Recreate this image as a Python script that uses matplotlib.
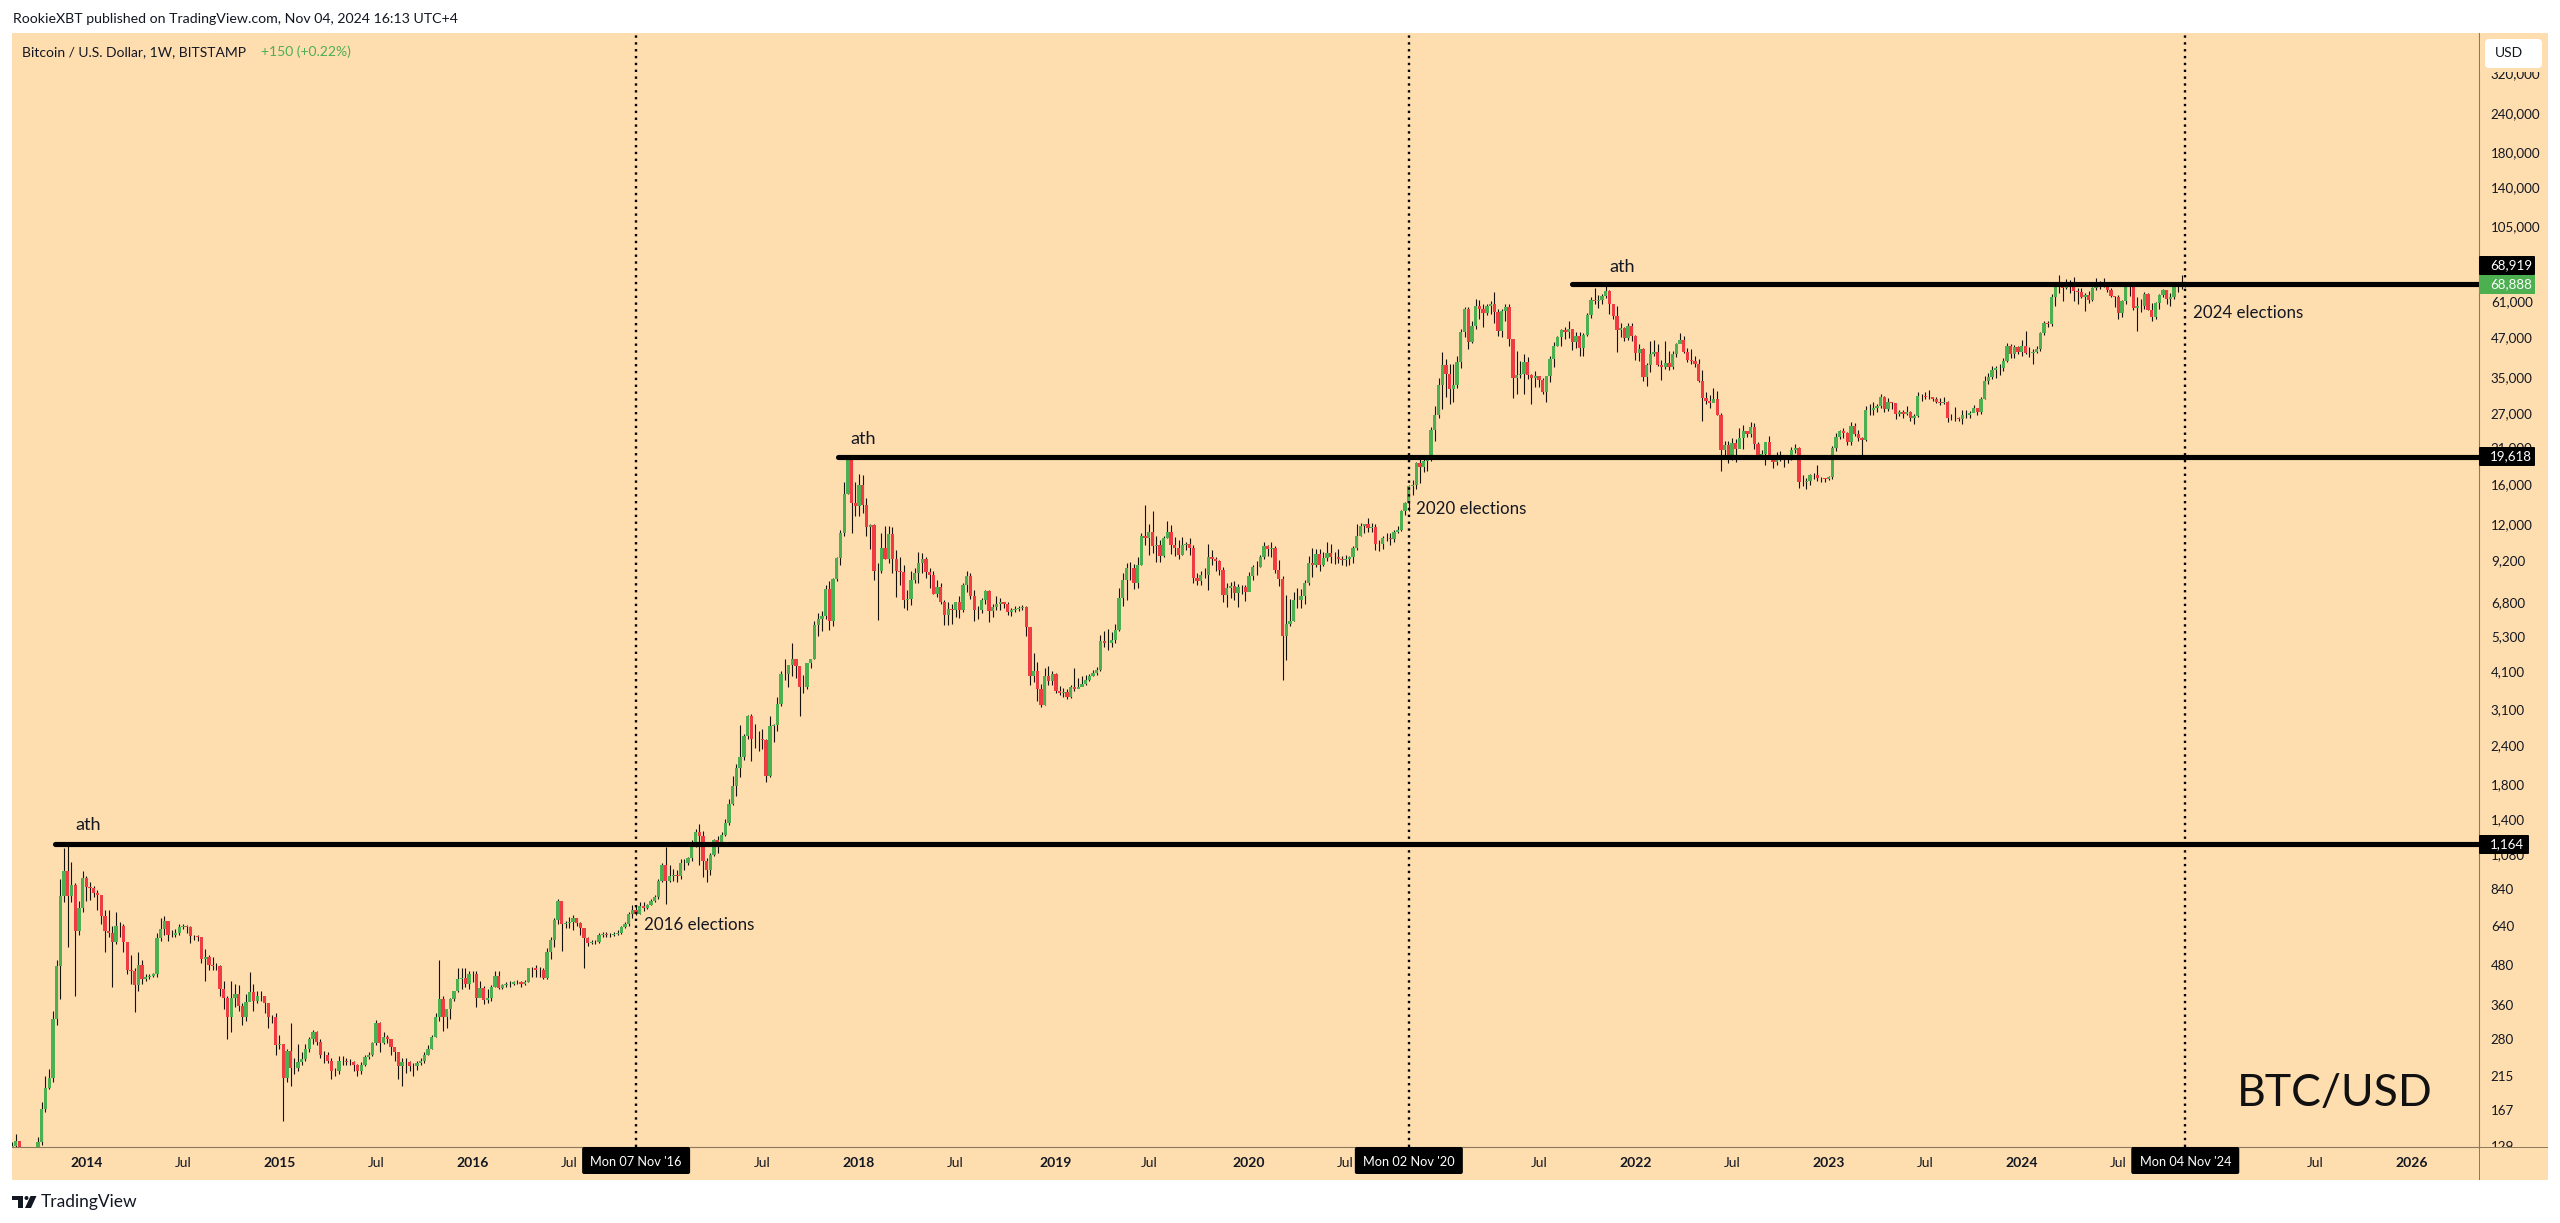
import numpy as np
import pandas as pd
import matplotlib
matplotlib.use('Agg')
import matplotlib.pyplot as plt
import matplotlib.dates as mdates
from matplotlib.patches import Rectangle, FancyBboxPatch, Polygon, Circle
from matplotlib.transforms import IdentityTransform

# =================== WEEKLY CANDLES ===================
close_2013 = [129,134,126,125,126,125,125,133,168,196,
              212,324,478,795,954,795,864,617,730,906]
high_2013 = [133,140,130,127,128,127,127,137,178,215,
             225,345,500,900,1130,1150,1018,877,770,954]
low_2013 = [122,125,122,122,122,122,122,124,130,165,
            195,205,310,376,760,550,760,385,600,710]

close_2014 = [850,842,815,800,690,617,609,570,640,640,
              570,465,460,415,480,436,440,445,450,585,
              625,665,600,600,608,635,640,635,595,595,
              592,505,510,480,478,478,405,380,330,380,
              390,358,330,368,395,370,385,385,365,330,
              330,268]
high_2014 = [920,880,860,835,800,720,720,640,710,660,
             650,570,520,470,530,500,450,450,455,610,
             680,690,665,620,625,650,650,645,640,600,
             600,590,540,520,510,490,480,430,385,430,
             420,415,365,390,458,420,400,400,385,345,
             335,340]
low_2014 = [770,775,790,720,650,530,590,410,560,590,
            530,450,420,341,400,420,430,435,440,440,
            575,600,575,590,590,600,625,610,565,580,
            575,490,430,465,465,465,385,350,280,295,
            355,345,310,320,370,345,365,370,340,305,
            315,250]

close_2015 = [270,212,258,227,228,238,243,262,280,295,
              275,250,250,240,222,222,240,240,238,238,
              232,222,232,246,250,272,315,272,285,280,
              265,255,230,238,238,230,230,235,239,250,
              262,285,330,376,330,350,376,400,435,437,
              420,450]
high_2015 = [290,268,262,315,245,270,255,270,285,300,
             298,280,258,255,245,228,248,248,245,242,
             240,234,238,250,256,275,322,318,295,290,
             272,262,238,245,245,240,236,240,245,255,
             268,290,340,500,385,345,380,400,470,470,
             470,460]
low_2015 = [262,154,205,200,218,222,232,240,255,270,
            268,245,235,235,210,215,218,232,233,232,
            222,215,218,230,242,248,268,255,270,272,
            250,240,210,199,220,222,215,224,232,235,
            250,262,285,320,298,305,325,370,395,405,
            410,405]

close_2016 = [450,380,408,372,378,410,445,408,415,418,
              418,425,425,420,425,470,470,465,465,438,
              530,580,670,770,650,655,660,680,655,630,
              585,565,570,568,600,605,600,600,605,610,
              635,648,700,720,700,740,730,745,770,790,
              890,1000]
high_2016 = [460,462,430,412,405,415,460,460,420,425,
             428,430,432,430,432,470,475,480,475,470,
             545,590,680,778,760,665,682,695,680,660,
             625,590,580,580,610,615,615,610,612,620,
             640,660,710,745,745,760,760,750,780,800,
             905,1010]
low_2016 = [425,355,385,362,365,370,410,405,405,410,
            410,415,420,410,415,425,440,440,440,435,
            435,505,550,650,535,630,630,620,640,600,
            470,555,560,560,565,590,590,590,595,600,
            605,630,640,680,695,700,715,725,745,760,
            780,880]

close_2017 = [890,920,930,925,1010,1010,1050,1170,1270,1230,
              1030,960,1075,1200,1165,1240,1355,1560,1780,2020,
              2190,2550,2970,2510,2510,2510,2490,1910,2750,2780,
              3230,4020,4030,4280,4500,4250,3650,3650,4340,4500,
              5740,6000,6150,7450,5900,8050,9360,11240,14970,19290,
              14000,13700]
high_2017 = [1140,1000,970,960,1040,1040,1060,1200,1300,1350,
             1280,1050,1090,1210,1230,1270,1400,1620,1905,2090,
             2780,2600,2980,3000,2800,2650,2700,2510,2950,2790,
             3400,4100,4490,4300,5040,4500,4250,4000,4350,4500,
             5900,6250,6350,7700,7900,8100,9400,11500,16300,19650,
             19280,16300]
low_2017 = [750,880,890,880,900,960,1000,1030,1140,1000,
            915,880,930,1070,1090,1150,1230,1340,1550,1650,
            1900,2150,2500,2130,2350,2300,2330,1830,1900,2440,
            2660,3180,3850,3650,3950,3900,2950,3500,3600,4200,
            4500,5300,5500,6000,5550,5700,7900,8900,11000,14900,
            11230,12700]

close_2018 = [16000,13750,11700,11900,8500,8500,10100,9300,11150,9300,
              8500,8450,6900,6950,8000,8400,9000,9300,8450,8250,
              7200,7600,6800,6200,6450,6400,6800,6400,7700,8200,
              7100,6400,6400,6900,7350,6350,6550,6700,6800,6700,
              6300,6400,6450,6500,6550,5650,3950,4100,3600,3200,
              3950,3830,4030]
high_2018 = [17250,17100,14500,12000,12000,9000,11200,11800,11800,11700,
             9900,9400,8900,7400,8500,8700,9800,9700,9400,8700,
             8500,8000,7800,6900,6800,6700,6800,7100,7800,8500,
             8400,7400,6600,7000,7400,7400,6700,7100,7000,6800,
             6800,6500,6600,6600,6650,6600,5650,4700,4400,3750,
             4200,4250,4100]
low_2018 = [12700,13000,11000,10000,8000,5950,8400,9300,9000,8400,
            7050,7700,6500,6400,6650,7800,7800,8400,8100,7500,
            7200,7050,6700,5750,5750,5800,6100,6050,6300,7300,
            6950,5900,6000,6250,6700,5880,6100,6400,6400,6500,
            6200,6150,6300,6350,6400,5300,3700,3800,3300,3150,
            3200,3700,3700]

close_2019 = [3550,3500,3520,3400,3650,3600,3660,3750,3850,3960,
              4050,4130,5100,5050,5050,5150,5550,7000,8000,8700,
              8700,7800,8900,11000,10800,11300,10200,10300,9500,10800,
              11300,10300,10100,9600,10300,10400,10100,8100,7900,8300,
              8300,9450,9270,9150,8600,7150,7550,7650,7250,7600,
              7600,7300]
high_2019 = [4060,3680,3640,3600,3720,4200,3900,3960,4000,4020,
             4150,4220,5350,5500,5600,5450,5800,7500,8400,9050,
             9100,8950,9400,11200,13800,12000,13150,11000,10700,11000,
             12300,11950,10900,10700,10900,10500,10800,10300,8400,8500,
             8700,10350,9950,9400,9250,8800,7800,7850,7900,7750,
             7700,7700]
low_2019 = [3500,3450,3400,3350,3380,3550,3620,3680,3720,3830,
            3950,3980,4100,4900,4800,4900,5050,5500,6600,6900,
            8000,7450,7500,8900,10300,9600,9700,9100,9100,9400,
            10800,9650,9500,9300,9550,9900,9550,7800,7700,7700,
            8100,7400,8900,8500,8300,6800,6550,7000,6900,6570,
            7200,6850]

close_2020 = [8200,8750,8750,9400,10250,10000,10100,8600,8050,5300,
              5800,5900,6900,6900,7100,7800,9000,8900,9650,8900,
              9350,9700,9400,9400,9300,9200,9300,9400,10100,11000,
              11800,12000,11650,11700,10400,10400,10800,10800,10750,11300,
              11500,13200,14000,15800,16000,18700,18200,19000,19200,23800,
              26500,33000]
high_2020 = [8450,8900,9150,9550,10500,10300,10500,10200,9200,8200,
             7150,6950,7300,7500,7450,8000,9500,10100,10000,10000,
             9800,10500,10400,9800,10000,9500,9600,9500,10200,12000,
             12100,12000,12500,12100,12000,10700,11000,11200,11200,11500,
             11800,13300,14100,15900,16500,18800,19400,19900,19500,24300,
             28400,34800]
low_2020 = [7400,8000,8250,8750,9300,9500,9400,8400,7650,3850,
            4450,5700,5900,6500,6500,6700,7700,8150,8800,8500,
            8850,9150,9050,8950,9000,8900,8850,8900,9050,9900,
            11000,11200,11300,11300,9900,9850,10000,10600,10300,10500,
            11200,11400,12800,13200,14800,15500,16200,17500,17600,19000,
            22000,26000]

close_2021 = [38150,35800,32200,33100,39000,48600,57400,45200,51000,59000,
              57500,55800,58800,59800,56100,49000,56600,58200,46400,34700,
              35600,35800,39000,35600,34700,35300,34200,31500,35400,39900,
              43800,47000,49300,48800,49900,45100,47300,43200,47700,54900,
              61500,60900,61300,63300,65500,59700,54700,49200,50000,46700,
              50700,47300]
high_2021 = [42000,40100,38500,38500,40900,49700,58300,58300,52600,61800,
             61600,59600,59500,61200,64900,57500,57500,59500,59500,45800,
             42500,39400,41300,40500,35900,36700,35100,34800,35400,40900,
             45300,47100,49700,50500,52900,47000,48800,48500,48200,55800,
             62900,67000,63700,64200,69000,66300,59400,59000,51900,50500,
             51900,52000]
low_2021 = [27700,30400,28800,29200,32300,37400,46800,43000,44800,49600,
            53300,50400,54900,55400,52000,47400,47000,52900,43800,30000,
            31000,34900,31000,34600,28800,32700,32700,31000,29300,33800,
            37600,43800,43900,46400,46500,42800,43300,40700,40700,47100,
            53900,59500,58000,59500,62300,55600,53500,42000,46800,45600,
            46000,45700]

close_2022 = [41800,43100,35000,38200,41400,42200,38300,37700,38800,37800,
              41300,44500,45800,42200,39700,39500,38500,34000,30100,29400,
              29000,29900,26600,20600,21400,19300,21600,20800,22500,23600,
              23200,24400,21500,19600,20000,21800,19400,18800,19300,19400,
              19200,19500,20600,20900,16300,16300,16400,17100,17100,16800,
              16800,16600]
high_2022 = [47600,44500,43400,38900,45500,45800,44700,39800,45400,42300,
             42400,45000,48200,47400,43400,42900,40700,40000,36800,31400,
             30700,32400,31700,27000,21900,21900,22500,22300,24200,24700,
             23500,25200,25100,21800,20600,21800,22800,19700,20300,20500,
             19900,19700,21000,21500,21000,17100,16800,17300,17400,18400,
             16900,16800]
low_2022 = [39700,39500,34000,32900,36300,40800,38000,34300,37200,37000,
            37100,40500,44800,41900,39200,38600,37600,33700,25400,28700,
            28000,29300,26500,17600,19700,18700,19100,18900,21100,20700,
            22700,22700,20800,19600,19500,18500,19400,18100,18500,19000,
            18200,18700,19100,20100,15600,15800,15500,16000,16700,16400,
            16300,16300]

close_2023 = [16900,20900,22700,23700,23300,21800,24600,23200,22400,22100,
              27500,27500,28000,28300,30300,27800,29200,28900,26800,27100,
              26800,27100,25900,26300,30500,30500,30300,30300,29800,29300,
              29000,29300,26000,26000,25900,25800,26500,26600,27000,27900,
              27200,29900,34100,35000,37000,37400,37400,39500,44000,41400,
              43600,42200]
high_2023 = [17000,21200,23300,23900,24200,23400,25200,25000,23900,22600,
             28400,28800,29200,28800,31000,30500,30000,29300,29100,27600,
             27500,28400,27400,26800,31400,31000,31500,31800,30400,30300,
             30000,30200,29500,26800,28100,26100,27500,27500,27300,28600,
             28000,30300,35200,36000,38000,37900,38400,40200,45000,44700,
             44300,44000]
low_2023 = [16500,16700,20400,22300,22500,21400,21400,22800,21900,19600,
            21900,26600,26600,27200,28000,27100,27300,27700,25800,26400,
            25900,26600,25400,24800,26200,29500,29900,29900,29500,28900,
            28600,28700,25200,25600,25400,25400,24900,26000,26000,27200,
            26500,26800,29800,33400,34500,34800,35600,36700,39000,40200,
            40300,41300]

close_2024 = [44000,41800,41600,42000,43000,48300,52100,51700,63000,68900,
              68400,67200,69600,69400,65700,65000,62900,63800,61500,67000,
              69300,67700,69300,66200,63200,62700,55900,60800,68200,68000,
              58100,58700,58900,64200,57300,54200,60000,63600,65900,62100,
              62900,69000,68000,69400,68888]
high_2024 = [45900,49000,43600,42900,43900,48600,52800,52900,64000,70200,
             73800,68100,71500,71300,72800,66900,67200,64700,65500,67700,
             71900,70600,71900,70100,67000,63300,63800,61400,68300,70000,
             70000,62700,61800,65000,64500,59900,60600,64100,66500,66000,
             64500,69500,69500,73600,70000]
low_2024 = [40800,41500,40600,38500,41800,42300,47700,50500,50900,59000,
            64500,60800,66500,64500,60800,59600,62400,56500,60200,60800,
            66300,66700,67600,65000,62800,58400,53500,54300,59700,63400,
            57100,49100,56100,57700,57100,52600,53600,57500,62700,59800,
            58900,62000,65100,66800,67500]

price_ticks = [320000,240000,180000,140000,105000,80000,61000,47000,35000,27000,
               21000,16000,12000,9200,6800,5300,4100,3100,2400,1800,
               1400,1080,840,640,480,360,280,215,167,129]

# 2017, 2021 and 2025 sit under the date boxes in the original
time_ticks = ['2014-01-06','2014-07-07','2015-01-05','2015-07-06','2016-01-04','2016-07-04',
              '2017-07-03','2018-01-01','2018-07-02','2019-01-07','2019-07-01',
              '2020-01-06','2020-07-06','2021-07-05','2022-01-03','2022-07-04',
              '2023-01-02','2023-07-03','2024-01-01','2024-07-01','2025-07-07',
              '2026-01-05']
time_labels = ['2014','Jul','2015','Jul','2016','Jul','Jul','2018','Jul','2019','Jul',
               '2020','Jul','Jul','2022','Jul','2023','Jul','2024','Jul','Jul','2026']

ath_levels = [1164, 19618, 68919]
ath_starts = ['2013-11-08', '2017-11-22', '2021-09-06']
ath_text_dates = ['2013-12-16', '2017-12-16', '2021-11-15']
ath_text_prices = [1337, 22266, 78000]

election_dates = ['2016-11-07', '2020-11-02', '2024-11-04']
election_box_labels = ["Mon 07 Nov '16", "Mon 02 Nov '20", "Mon 04 Nov '24"]
election_texts = ['2016 elections', '2020 elections', '2024 elections']
election_text_dates = ['2016-11-21', '2020-11-16', '2024-11-18']
election_text_prices = [645, 13367, 55700]
# ===========================================================================

W, H = 2560, 1223
PANEL = '#FEDDAF'
INK = '#131722'
GREEN = '#4CAF50'
RED = '#EF3B42'
AXIS_LINE = '#8C7A5E'

plt.rcParams['font.family'] = ['Lato', 'DejaVu Sans']

closes = close_2013 + close_2014 + close_2015 + close_2016 + close_2017 + close_2018 \
    + close_2019 + close_2020 + close_2021 + close_2022 + close_2023 + close_2024
highs = high_2013 + high_2014 + high_2015 + high_2016 + high_2017 + high_2018 \
    + high_2019 + high_2020 + high_2021 + high_2022 + high_2023 + high_2024
lows = low_2013 + low_2014 + low_2015 + low_2016 + low_2017 + low_2018 \
    + low_2019 + low_2020 + low_2021 + low_2022 + low_2023 + low_2024

closes = np.array(closes, dtype=float)
highs = np.array(highs, dtype=float)
lows = np.array(lows, dtype=float)
opens = np.concatenate([[124.0], closes[:-1]])

weeks = pd.date_range('2013-08-19', periods=len(closes), freq='7D')
x = mdates.date2num(weeks)


def dn(s):
    return mdates.date2num(pd.Timestamp(s))


def px_text(x_px, y_px, s, **kw):
    # text placed in image pixels, y counted from the top
    return fig.text(x_px, H - y_px, s, transform=IdentityTransform(), **kw)


def px_rect(x0, y0, x1, y1, color, zorder=1):
    r = Rectangle((x0, H - y1), x1 - x0, y1 - y0, transform=IdentityTransform(),
                  facecolor=color, edgecolor='none', zorder=zorder)
    fig.add_artist(r)


def px_box(x0, y0, x1, y1, color, radius=2, zorder=2):
    r = FancyBboxPatch((x0, H - y1), x1 - x0, y1 - y0, transform=IdentityTransform(),
                       boxstyle=f'round,pad=0,rounding_size={radius}',
                       facecolor=color, edgecolor='none', zorder=zorder)
    fig.add_artist(r)


fig = plt.figure(figsize=(W / 100, H / 100), dpi=100, facecolor='white')
px_rect(12, 33, 2548, 1180, PANEL, zorder=-1)

ax = fig.add_axes([12 / W, (H - 1147) / H, (2479 - 12) / W, (1147 - 33) / H])
ax.set_facecolor(PANEL)

# candles
up = closes >= opens
bottoms = np.minimum(opens, closes)
heights = np.abs(closes - opens)
ax.vlines(x, lows, highs, color='#15120c', lw=0.8, zorder=2)
ax.bar(x[up], heights[up], bottom=bottoms[up], width=6.2, color=GREEN, linewidth=0, zorder=3)
ax.bar(x[~up], heights[~up], bottom=bottoms[~up], width=6.2, color=RED, linewidth=0, zorder=3)

# ath lines
for level, start in zip(ath_levels, ath_starts):
    ax.plot([dn(start), dn('2027-01-01')], [level, level], color='black', lw=3.7,
            solid_capstyle='round', zorder=5)
for d, p in zip(ath_text_dates, ath_text_prices):
    ax.text(dn(d), p, 'ath', fontsize=13, color=INK, va='center', ha='left', zorder=6)

# election markers
for d, s, td, tp in zip(election_dates, election_texts, election_text_dates, election_text_prices):
    ax.axvline(dn(d), color='black', lw=1.7, linestyle=(0, (1, 1.9)), zorder=4)
    ax.text(dn(td), tp, s, fontsize=12.2, color=INK, va='center', ha='left', zorder=6)

ax.set_yscale('log')
ax.set_ylim(127.8, 430400)
ax.set_xlim(x[0], x[0] + (2479 - 12) / 3.715 * 7)

ax.yaxis.tick_right()
ax.set_yticks(price_ticks)
ax.set_yticklabels([f'{p:,}' for p in price_ticks])
ax.set_yticks([], minor=True)
ax.tick_params(axis='y', length=0, pad=8.5, labelsize=9.6, labelcolor=INK)

ax.set_xticks([dn(d) for d in time_ticks])
ax.set_xticklabels(time_labels)
ax.tick_params(axis='x', length=0, pad=7, labelsize=10, labelcolor=INK)
for lab in ax.get_xticklabels():
    if lab.get_text() != 'Jul':
        lab.set_fontweight('bold')

for side in ['top', 'left']:
    ax.spines[side].set_visible(False)
for side in ['bottom', 'right']:
    ax.spines[side].set_color(AXIS_LINE)
    ax.spines[side].set_linewidth(0.8)

# bottom right corner of the panel, hides the clipped 129 label
px_rect(2479.5, 1147.5, 2548, 1180, PANEL, zorder=1)
px_rect(2479, 1146.5, 2548, 1147.5, AXIS_LINE, zorder=1.2)
px_rect(2478.6, 1147, 2479.6, 1180, AXIS_LINE, zorder=1.2)

# white currency button on the price scale, the top of 320,000 is cut off under it
px_rect(2480, 33, 2548, 72, PANEL, zorder=1)
px_box(2485, 39, 2542, 68, 'white', radius=4)
px_text(2495, 53, 'USD', fontsize=10, color=INK, va='center', ha='left')

# price labels
px_box(2479, 256, 2535, 275, 'black', radius=1)
px_text(2490, 265.5, '68,919', fontsize=9.6, color='white', va='center', ha='left')
px_rect(2479, 275, 2535, 294, GREEN, zorder=2)
px_text(2490, 284.5, '68,888', fontsize=9.6, color='white', va='center', ha='left')
px_box(2479, 447, 2535, 466, 'black', radius=1)
px_text(2490, 456.5, '19,618', fontsize=9.6, color='white', va='center', ha='left')
px_box(2479, 835, 2529, 854, 'black', radius=1)
px_text(2490, 844.5, '1,164', fontsize=9.6, color='white', va='center', ha='left')

# date labels on the time scale
for d, s in zip(election_dates, election_box_labels):
    xc = ax.transData.transform((dn(d), 1000))[0]
    px_box(xc - 54, 1147, xc + 54, 1174, 'black', radius=2)
    px_text(xc, 1162, s, fontsize=9.2, color='white', va='center', ha='center')

# header and legend
px_text(13, 19, 'RookieXBT published on TradingView.com, Nov 04, 2024 16:13 UTC+4',
        fontsize=10.2, color=INK, va='center', ha='left')
px_text(22, 52, 'Bitcoin / U.S. Dollar, 1W, BITSTAMP', fontsize=10, color=INK, va='center', ha='left')
px_text(261, 52, '+150 (+0.22%)', fontsize=10, color=GREEN, va='center', ha='left')

px_text(2335, 1094, 'BTC/USD', fontsize=32, color='#111111', va='center', ha='center')

# TradingView logo
px_rect(12, 1196, 23, 1199.5, '#131722', zorder=2)
px_rect(17.5, 1196, 23, 1208, '#131722', zorder=2)
fig.add_artist(Circle((26.5, H - 1198), 2, transform=IdentityTransform(), facecolor='#131722',
                      edgecolor='none', zorder=2))
fig.add_artist(Polygon([(30.5, H - 1196), (36.5, H - 1196), (31, H - 1208), (25, H - 1208)],
                       transform=IdentityTransform(), facecolor='#131722', edgecolor='none', zorder=2))
px_text(41, 1202, 'TradingView', fontsize=12.5, color=INK, va='center', ha='left')

fig.savefig('out.png', dpi=100)
plt.close(fig)
